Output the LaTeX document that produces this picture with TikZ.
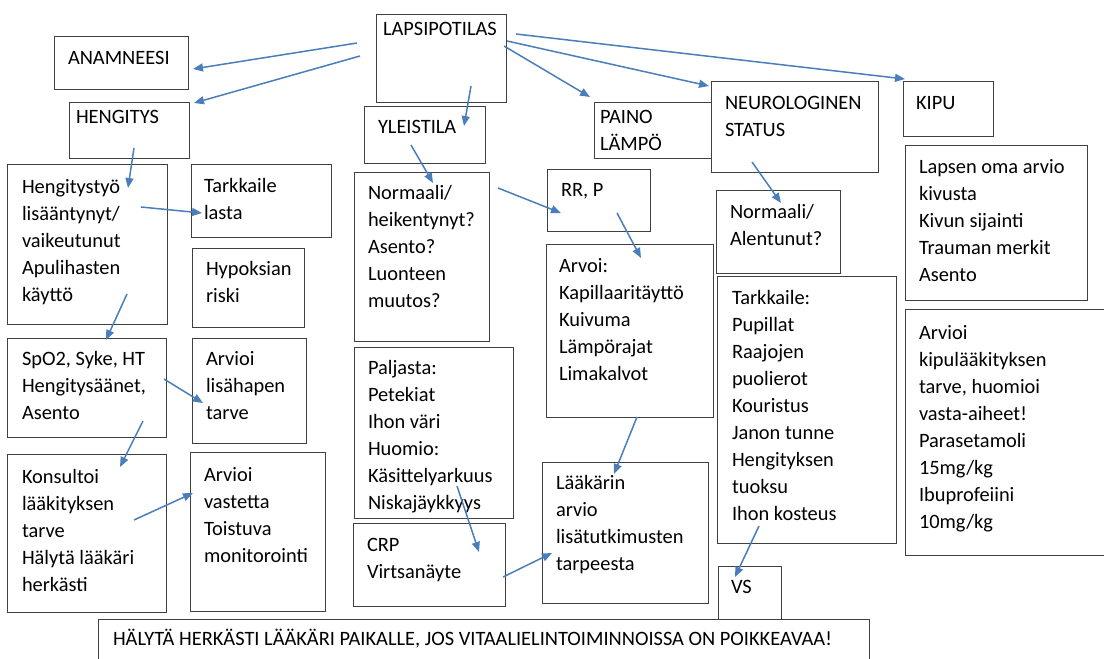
\documentclass[tikz,border=0pt]{standalone}
\usepackage{fontspec}
\setmainfont{Carlito}
\usetikzlibrary{arrows.meta}
\definecolor{boxgray}{HTML}{404040}
\definecolor{arrblue}{HTML}{4A7EBB}
\begin{document}
\begin{tikzpicture}[x=1pt,y=-1pt,
  box/.style={draw=boxgray, line width=1pt, fill=white, anchor=north west, inner sep=0pt, outer sep=0pt},
  txt/.style={anchor=north west, align=left, inner sep=0pt, outer sep=0pt, font=\fontsize{20.4}{27}\selectfont},
  arr/.style={draw=arrblue, line width=1.5pt, -{Triangle[length=10pt,width=8pt]}}]
\useasboundingbox (0,0) rectangle (1104,659);
\clip (0,0) rectangle (1104,659);
% boxes and texts
\node[box, minimum width=130pt, minimum height=88pt] (laps) at (376,14) {};
\node[txt] (lapst) at (383,17) {\strut LAPSIPOTILAS};
\node[box, minimum width=134pt, minimum height=53pt] (anam) at (54,36) {};
\node[txt] (anamt) at (68,46) {\strut ANAMNEESI};
\node[box, minimum width=120pt, minimum height=56pt] (heng) at (69,102) {};
\node[txt] (hengt) at (76,105) {\strut HENGITYS};
\node[box, minimum width=121pt, minimum height=57pt] (yleis) at (364,106) {};
\node[txt] (yleist) at (378,115) {\strut YLEISTILA};
\node[box, minimum width=166pt, minimum height=56pt] (paino) at (594,102) {};
\node[txt] (painot) at (600,105) {\strut PAINO\\LÄMPÖ};
\node[box, minimum width=167pt, minimum height=91pt] (neuro) at (711,81) {};
\node[txt] (neurot) at (725,91) {\strut NEUROLOGINEN\\STATUS};
\node[box, minimum width=90pt, minimum height=55pt] (kipu) at (903,81) {};
\node[txt] (kiput) at (916,91) {\strut KIPU};
\node[box, minimum width=182pt, minimum height=155pt] (lapsen) at (905,145) {};
\node[txt] (lapsent) at (919,154.5) {\strut Lapsen oma arvio\\kivusta\\Kivun sijainti\\Trauman merkit\\Asento};
\node[box, minimum width=210pt, minimum height=246pt] (kipulaak) at (905,309) {};
\node[txt] (kipulaakt) at (919,320.5) {\strut Arvioi\\kipulääkityksen\\tarve, huomioi\\vasta-aiheet!\\Parasetamoli\\15mg/kg\\Ibuprofeiini\\10mg/kg};
\node[box, minimum width=160pt, minimum height=160pt] (hengtyo) at (7,164) {};
\node[txt] (hengtyot) at (22,174.5) {\strut Hengitystyö\\lisääntynyt/\\vaikeutunut\\Apulihasten\\käyttö};
\node[box, minimum width=140pt, minimum height=73pt] (tark) at (191,164) {};
\node[txt] (tarkt) at (204,173.5) {\strut Tarkkaile\\lasta};
\node[box, minimum width=112pt, minimum height=79pt] (hypo) at (192,248) {};
\node[txt] (hypot) at (206,256.5) {\strut Hypoksian\\riski};
\node[box, minimum width=159pt, minimum height=99pt] (spo) at (7,338) {};
\node[txt] (spot) at (22,346.5) {\strut SpO2, Syke, HT\\Hengitysäänet,\\Asento};
\node[box, minimum width=114pt, minimum height=105pt] (lisah) at (192,338) {};
\node[txt] (lisaht) at (206,346.5) {\strut Arvioi\\lisähapen\\tarve};
\node[box, minimum width=159pt, minimum height=158pt] (kons) at (7,454) {};
\node[txt] (konst) at (22,464.5) {\strut Konsultoi\\lääkityksen\\tarve\\Hälytä lääkäri\\herkästi};
\node[box, minimum width=135pt, minimum height=159pt] (vaste) at (190,452) {};
\node[txt] (vastet) at (204,462.5) {\strut Arvioi\\vastetta\\Toistuva\\monitorointi};
\node[box, minimum width=135pt, minimum height=169pt] (norm) at (354,172) {};
\node[txt] (normt) at (368,180.5) {\strut Normaali/\\heikentynyt?\\Asento?\\Luonteen\\muutos?};
\node[box, minimum width=103pt, minimum height=62pt] (rrp) at (547,169) {};
\node[txt] (rrpt) at (561,177.5) {\strut RR, P};
\node[box, minimum width=167pt, minimum height=173pt] (arvoi) at (546,244) {};
\node[txt] (arvoit) at (559,253.5) {\strut Arvoi:\\Kapillaaritäyttö\\Kuivuma\\Lämpörajat\\Limakalvot};
\node[box, minimum width=159pt, minimum height=171pt] (palj) at (354,347) {};
\begin{scope}
\clip (354,347) rectangle (513,512);
\node[txt] (paljt) at (368,355.5) {\strut Paljasta:\\Petekiat\\Ihon väri\\Huomio:\\Käsittelyarkuus\\Niskajäykkyys};
\end{scope}
\node[box, minimum width=152pt, minimum height=83pt] (crp) at (353,523) {};
\node[txt] (crpt) at (367,532.5) {\strut CRP\\Virtsanäyte};
\node[box, minimum width=166pt, minimum height=141pt] (laak) at (542,462) {};
\node[txt] (laakt) at (556,470.5) {\strut Lääkärin\\arvio\\lisätutkimusten\\tarpeesta};
\node[box, minimum width=124pt, minimum height=83pt] (normal) at (716,190) {};
\node[txt] (normalt) at (730,199.5) {\strut Normaali/\\Alentunut?};
\node[box, minimum width=179pt, minimum height=267pt] (tarkk) at (717,276) {};
\node[txt] (tarkkt) at (732,285.5) {\strut Tarkkaile:\\Pupillat\\Raajojen\\puolierot\\Kouristus\\Janon tunne\\Hengityksen\\tuoksu\\Ihon kosteus};
\node[box, minimum width=63pt, minimum height=80pt] (vs) at (718,566) {};
\node[txt] (vst) at (731,574.5) {\strut VS};
\node[box, minimum width=771pt, minimum height=60pt] (bottom) at (98,619) {};
\node[txt] (bottomt) at (113,626.5) {\strut HÄLYTÄ HERKÄSTI LÄÄKÄRI PAIKALLE, JOS VITAALIELINTOIMINNOISSA ON POIKKEAVAA!};
% connector end points
\coordinate (c1s) at (357,43);  \coordinate (c1e) at (193,69);
\coordinate (c2s) at (360,56);  \coordinate (c2e) at (194,103);
\coordinate (c3s) at (471,86);  \coordinate (c3e) at (464,126);
\coordinate (c4s) at (504,46);  \coordinate (c4e) at (590,97);
\coordinate (c5s) at (507,41);  \coordinate (c5e) at (709,86);
\coordinate (c6s) at (516,34);  \coordinate (c6e) at (905,79);
\coordinate (c7s) at (134,148); \coordinate (c7e) at (128,188);
\coordinate (c8s) at (411,145); \coordinate (c8e) at (433,183);
\coordinate (c9s) at (141,207); \coordinate (c9e) at (202,213);
\coordinate (c10s) at (127,294); \coordinate (c10e) at (106,340);
\coordinate (c11s) at (164,379); \coordinate (c11e) at (203,403);
\coordinate (c12s) at (143,421); \coordinate (c12e) at (120,467);
\coordinate (c13s) at (134,520); \coordinate (c13e) at (193,493);
\coordinate (c14s) at (498,188); \coordinate (c14e) at (561,213);
\coordinate (c15s) at (617,213); \coordinate (c15e) at (641,258);
\coordinate (c16s) at (637,417); \coordinate (c16e) at (614,474);
\coordinate (c17s) at (457,486); \coordinate (c17e) at (479,552);
\coordinate (c18s) at (503,577); \coordinate (c18e) at (552,553);
\coordinate (c19s) at (752,162); \coordinate (c19e) at (781,203);
\coordinate (c20s) at (759,526); \coordinate (c20e) at (735,577);
\foreach \i in {1,...,20} { \draw[arr] (c\i s) -- (c\i e); }
\end{tikzpicture}
\end{document}
